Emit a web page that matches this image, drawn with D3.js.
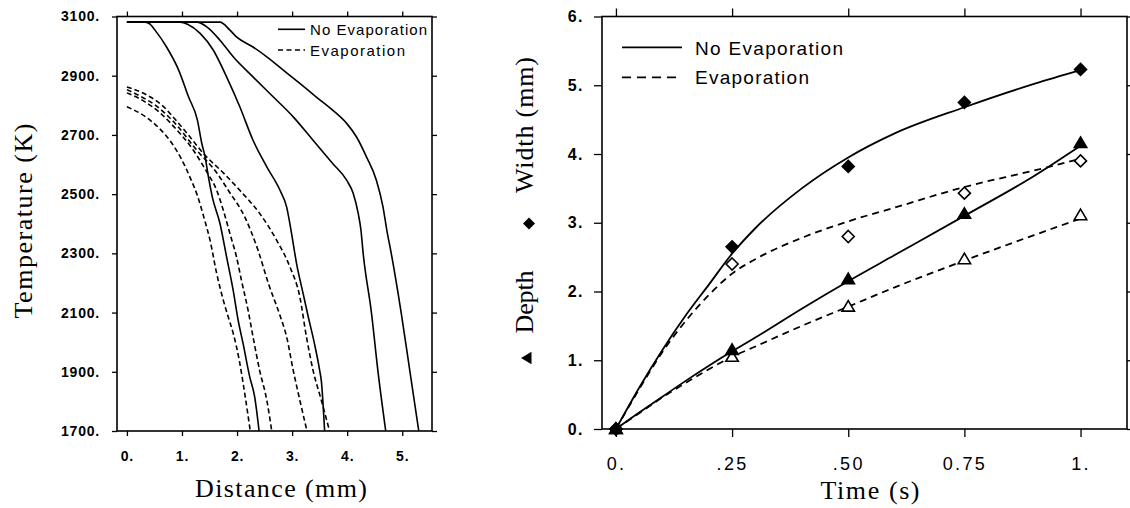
<!DOCTYPE html>
<html>
<head>
<meta charset="utf-8">
<script src="https://cdn.jsdelivr.net/npm/d3@7"></script>
<style>
  body { margin: 0; background: #fff; }
  svg { display: block; }
  .tick text { fill: #000; }
  .sans { font-family: "Liberation Sans", Arial, sans-serif; }
  .serif { font-family: "Liberation Serif", "Times New Roman", serif; }
</style>
</head>
<body>
<div id="chart"></div>
<script>
// ---- left panel: temperature profiles (distance mm, temperature K) ----
var distTicks = [0, 1, 2, 3, 4, 5];
var tempTicks = [1700, 1900, 2100, 2300, 2500, 2700, 2900, 3100];

var noEvap1 = [[0,3081],[0.33,3081],[0.42,3074],[0.51,3054],[0.72,2997],[0.94,2919],[1.12,2828],[1.28,2750],[1.36,2671],[1.42,2626],[1.48,2558],[1.55,2491],[1.69,2401],[1.81,2288],[1.93,2175],[2.02,2074],[2.11,1995],[2.23,1883],[2.32,1815],[2.40,1700]];
var noEvap2 = [[0,3081],[0.97,3081],[1.10,3074],[1.33,3043],[1.57,2986],[1.81,2896],[2.05,2795],[2.29,2682],[2.54,2592],[2.78,2513],[2.90,2457],[2.99,2367],[3.08,2266],[3.20,2164],[3.30,2080],[3.40,2000],[3.50,1905],[3.53,1870],[3.59,1700]];
var noEvap3 = [[0,3081],[1.27,3081],[1.45,3065],[1.69,3020],[1.93,2964],[2.29,2896],[2.66,2828],[3.02,2761],[3.38,2682],[3.74,2603],[3.99,2547],[4.11,2502],[4.20,2435],[4.25,2378],[4.29,2300],[4.44,2100],[4.56,1900],[4.70,1700]];
var noEvap4 = [[0,3081],[1.69,3081],[1.87,3054],[1.99,3031],[2.29,2997],[2.54,2964],[2.84,2919],[3.14,2874],[3.44,2828],[3.74,2783],[3.99,2739],[4.17,2693],[4.35,2626],[4.53,2547],[4.65,2457],[4.72,2378],[4.80,2300],[4.98,2100],[5.14,1900],[5.30,1700]];

var evap1 = [[0,2795],[0.34,2761],[0.61,2718],[0.82,2671],[1.00,2615],[1.15,2555],[1.28,2495],[1.40,2420],[1.51,2344],[1.63,2232],[1.75,2142],[1.84,2085],[1.93,2030],[2.04,1939],[2.14,1826],[2.24,1700]];
var evap2 = [[0,2842],[0.30,2815],[0.60,2775],[0.90,2718],[1.20,2650],[1.45,2575],[1.63,2513],[1.75,2446],[1.87,2367],[1.99,2288],[2.08,2209],[2.20,2108],[2.29,2018],[2.41,1905],[2.54,1804],[2.63,1700]];
var evap3 = [[0,2853],[0.25,2830],[0.52,2800],[0.88,2738],[1.27,2648],[1.64,2570],[1.84,2513],[2.14,2423],[2.38,2311],[2.57,2198],[2.78,2090],[2.90,2018],[3.02,1905],[3.14,1804],[3.27,1700]];
var evap4 = [[0,2862],[0.37,2834],[0.64,2800],[0.88,2752],[1.12,2699],[1.39,2637],[1.76,2570],[2.05,2513],[2.41,2435],[2.72,2344],[2.96,2254],[3.14,2153],[3.26,2018],[3.38,1905],[3.53,1804],[3.68,1700]];

// ---- right panel: pool width / depth vs time ----
var timeTicks = [0, 0.25, 0.5, 0.75, 1];
var timeLabels = ['0.', '.25', '.50', '0.75', '1.'];
var mmTicks = [0, 1, 2, 3, 4, 5, 6];

var times = [0, 0.25, 0.5, 0.75, 1];
var widthNoEvap = [0, 2.65, 3.82, 4.75, 5.23];
var widthEvap = [0, 2.40, 2.80, 3.43, 3.90];
var depthNoEvap = [0, 1.15, 2.18, 3.13, 4.16];
var depthEvap = [0, 1.05, 1.78, 2.47, 3.11];

// fitted curves
var fitTimes = [0, 0.05, 0.1, 0.15, 0.2, 0.25, 0.3, 0.4, 0.5, 0.6, 0.75, 0.9, 1];
var widthNoEvapFit = [0, 0.6, 1.15, 1.65, 2.1, 2.55, 2.92, 3.5, 3.95, 4.3, 4.68, 5.02, 5.22];
var widthEvapFit = [0, 0.58, 1.12, 1.57, 1.95, 2.26, 2.47, 2.78, 3.02, 3.22, 3.52, 3.76, 3.93];
var depthNoEvapFit = [0, 0.24, 0.47, 0.7, 0.92, 1.13, 1.33, 1.75, 2.15, 2.53, 3.1, 3.68, 4.12];
var depthEvapFit = [0, 0.23, 0.46, 0.67, 0.87, 1.05, 1.2, 1.5, 1.78, 2.06, 2.45, 2.82, 3.06];

var W = 1130, H = 508;
var svg = d3.select('#chart').append('svg').attr('width', W).attr('height', H);

function styleAxis (g, fontSize, weight, spacing) {
  g.select('.domain').remove();
  g.selectAll('.tick line').attr('stroke', '#000').attr('stroke-width', 1.3);
  g.selectAll('.tick text')
    .attr('class', 'sans')
    .style('font-size', fontSize + 'px')
    .style('font-weight', weight)
    .style('letter-spacing', spacing + 'px');
}

// ================= left panel =================
var xL = d3.scaleLinear().domain([-0.18, 5.54]).range([117, 432]);
var yL = d3.scaleLinear().domain([1700, 3100]).range([431, 16.5]);
var left = svg.append('g');

left.append('g').attr('transform', 'translate(117,0)')
  .call(d3.axisLeft(yL).tickValues(tempTicks).tickSize(5).tickPadding(12).tickFormat(function (d) { return d + '.'; }))
  .call(styleAxis, 14, 'bold', 0.8);
left.append('g').attr('transform', 'translate(432,0)')
  .call(d3.axisRight(yL).tickValues(tempTicks).tickSize(5).tickFormat(''))
  .call(styleAxis, 14, 'bold', 0);
left.append('g').attr('transform', 'translate(0,431)')
  .call(d3.axisBottom(xL).tickValues(distTicks).tickSize(5).tickPadding(15).tickFormat(function (d) { return d + '.'; }))
  .call(styleAxis, 14, 'bold', 0.8);
left.append('g').attr('transform', 'translate(0,16.5)')
  .call(d3.axisTop(xL).tickValues(distTicks).tickSize(5).tickFormat(''))
  .call(styleAxis, 14, 'bold', 0);

left.append('rect')
  .attr('x', xL.range()[0]).attr('y', yL.range()[1])
  .attr('width', xL.range()[1] - xL.range()[0]).attr('height', yL.range()[0] - yL.range()[1])
  .attr('fill', 'none').attr('stroke', '#000').attr('stroke-width', 1.6);

// distance grows along every profile, so a monotone-x curve keeps the flat tops flat
var lineL = d3.line()
  .x(function (d) { return xL(d[0]); })
  .y(function (d) { return yL(d[1]); })
  .curve(d3.curveMonotoneX);

[noEvap1, noEvap2, noEvap3, noEvap4].forEach(function (p) {
  left.append('path').attr('d', lineL(p)).attr('fill', 'none')
    .attr('stroke', '#000').attr('stroke-width', 1.6);
});
[evap1, evap2, evap3, evap4].forEach(function (p) {
  left.append('path').attr('d', lineL(p)).attr('fill', 'none')
    .attr('stroke', '#000').attr('stroke-width', 1.6).attr('stroke-dasharray', '5,3');
});

// legend
left.append('line').attr('x1', 278).attr('x2', 305).attr('y1', 29.3).attr('y2', 29.3)
  .attr('stroke', '#000').attr('stroke-width', 1.6);
left.append('line').attr('x1', 278).attr('x2', 305).attr('y1', 50).attr('y2', 50)
  .attr('stroke', '#000').attr('stroke-width', 1.6).attr('stroke-dasharray', '5,3.5');
left.append('text').attr('class', 'sans').attr('x', 310).attr('y', 35)
  .attr('textLength', 117).attr('lengthAdjust', 'spacing')
  .style('font-size', '15px').text('No Evaporation');
left.append('text').attr('class', 'sans').attr('x', 310).attr('y', 55.7)
  .attr('textLength', 95).attr('lengthAdjust', 'spacing')
  .style('font-size', '15px').text('Evaporation');

// axis titles
left.append('text').attr('class', 'serif').attr('text-anchor', 'middle')
  .attr('x', 281).attr('y', 496.5)
  .attr('textLength', 172).attr('lengthAdjust', 'spacing')
  .style('font-size', '26px').text('Distance (mm)');
left.append('text').attr('class', 'serif').attr('text-anchor', 'middle')
  .attr('transform', 'translate(32,221) rotate(-90)')
  .attr('textLength', 195).attr('lengthAdjust', 'spacing')
  .style('font-size', '26px').text('Temperature (K)');

// ================= right panel =================
var xR = d3.scaleLinear().domain([-0.03, 1.1]).range([602, 1127]);
var yR = d3.scaleLinear().domain([0, 6]).range([429, 16.5]);
var right = svg.append('g');

right.append('g').attr('transform', 'translate(602,0)')
  .call(d3.axisLeft(yR).tickValues(mmTicks).tickSize(8).tickPadding(10).tickFormat(function (d) { return d + '.'; }))
  .call(styleAxis, 16, 'bold', 1.5);
right.append('g').attr('transform', 'translate(1127,0)')
  .call(d3.axisRight(yR).tickValues(mmTicks).tickSize(8).tickFormat(''))
  .call(styleAxis, 16, 'bold', 0);
right.append('g').attr('transform', 'translate(0,429)')
  .call(d3.axisBottom(xR).tickValues(timeTicks).tickSize(8).tickPadding(20).tickFormat(function (d, i) { return timeLabels[i]; }))
  .call(styleAxis, 18, 'normal', 2.3);
right.append('g').attr('transform', 'translate(0,16.5)')
  .call(d3.axisTop(xR).tickValues(timeTicks).tickSize(8).tickFormat(''))
  .call(styleAxis, 16, 'normal', 0);

right.append('rect')
  .attr('x', xR.range()[0]).attr('y', yR.range()[1])
  .attr('width', xR.range()[1] - xR.range()[0]).attr('height', yR.range()[0] - yR.range()[1])
  .attr('fill', 'none').attr('stroke', '#000').attr('stroke-width', 1.6);

var lineR = d3.line()
  .x(function (d) { return xR(d[0]); })
  .y(function (d) { return yR(d[1]); })
  .curve(d3.curveMonotoneX);

function zip (a, b) { return a.map(function (v, i) { return [v, b[i]]; }); }

[[widthNoEvapFit, null], [depthNoEvapFit, null], [widthEvapFit, '7,5'], [depthEvapFit, '7,5']].forEach(function (s) {
  right.append('path').attr('d', lineR(zip(fitTimes, s[0]))).attr('fill', 'none')
    .attr('stroke', '#000').attr('stroke-width', 1.8).attr('stroke-dasharray', s[1]);
});

var diamond = 'M0,-6L6,0L0,6L-6,0Z';
var triangle = 'M0,-6L6.2,4.5L-6.2,4.5Z';

function markers (vals, shape, filled) {
  right.selectAll(null).data(zip(times, vals)).enter().append('path')
    .attr('d', shape)
    .attr('transform', function (d) { return 'translate(' + xR(d[0]) + ',' + yR(d[1]) + ')'; })
    .attr('fill', filled ? '#000' : '#fff')
    .attr('stroke', '#000').attr('stroke-width', 1.6);
}
markers(widthEvap, diamond, false);
markers(depthEvap, triangle, false);
markers(widthNoEvap, diamond, true);
markers(depthNoEvap, triangle, true);

// legend
right.append('line').attr('x1', 622).attr('x2', 682).attr('y1', 47.3).attr('y2', 47.3)
  .attr('stroke', '#000').attr('stroke-width', 1.8);
right.append('line').attr('x1', 622).attr('x2', 682).attr('y1', 77.3).attr('y2', 77.3)
  .attr('stroke', '#000').attr('stroke-width', 1.8).attr('stroke-dasharray', '9,6');
right.append('text').attr('class', 'sans').attr('x', 695).attr('y', 55)
  .attr('textLength', 148).attr('lengthAdjust', 'spacing')
  .style('font-size', '19px').text('No Evaporation');
right.append('text').attr('class', 'sans').attr('x', 695).attr('y', 83.5)
  .attr('textLength', 114).attr('lengthAdjust', 'spacing')
  .style('font-size', '19px').text('Evaporation');

// axis titles
right.append('text').attr('class', 'serif').attr('text-anchor', 'middle')
  .attr('x', 870).attr('y', 499)
  .attr('textLength', 99).attr('lengthAdjust', 'spacing')
  .style('font-size', '26px').text('Time (s)');
right.append('text').attr('class', 'serif').attr('text-anchor', 'middle')
  .attr('transform', 'translate(533,125) rotate(-90)')
  .attr('textLength', 136).attr('lengthAdjust', 'spacing')
  .style('font-size', '26px').text('Width (mm)');
right.append('text').attr('class', 'serif').attr('text-anchor', 'middle')
  .attr('transform', 'translate(533,302) rotate(-90)')
  .attr('textLength', 63).attr('lengthAdjust', 'spacing')
  .style('font-size', '26px').text('Depth');
right.append('path').attr('d', diamond).attr('transform', 'translate(529,223.5)').attr('fill', '#000');
right.append('path').attr('d', triangle).attr('transform', 'translate(527,358) rotate(-90)').attr('fill', '#000');
</script>
</body>
</html>
